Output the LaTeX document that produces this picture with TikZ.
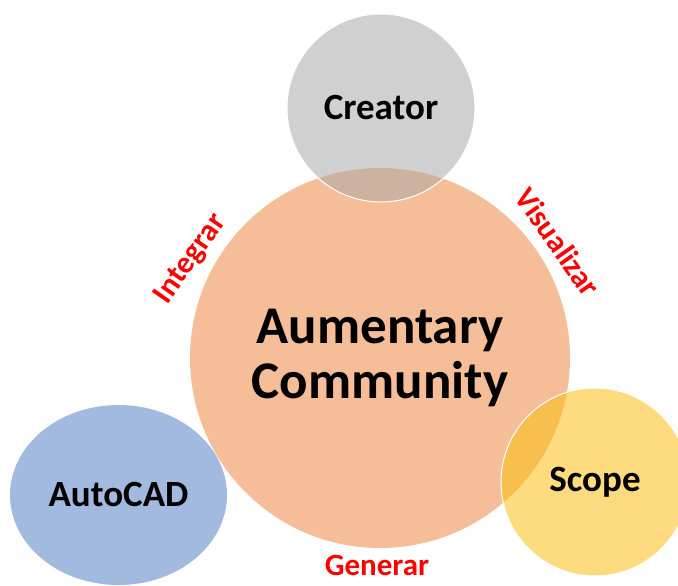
\documentclass[tikz,border=0pt]{standalone}
\usepackage{fontspec}
\setmainfont{Carlito}
\usepackage{xcolor}
\usepackage{tikz}
\usetikzlibrary{shapes.geometric}

\definecolor{peach}{HTML}{F5BD98}
\definecolor{stone}{HTML}{D0D0D0}
\definecolor{sand}{HTML}{CDB29F}
\definecolor{sky}{HTML}{A2B9E0}
\definecolor{sun}{HTML}{FEDB7E}
\definecolor{amber}{HTML}{F7BF4D}
\definecolor{verbred}{HTML}{FF0000}

\begin{document}
\begin{tikzpicture}[x=1pt,y=-1pt,
        bubble/.style={circle,inner sep=0pt,text=black,font=\bfseries\fontsize{37}{40}\selectfont},
        verb/.style={inner sep=0pt,text=verbred,font=\bfseries\fontsize{31}{34}\selectfont}]
        \clip (0,0) rectangle (678,586);
        \node[bubble,fill=peach,minimum size=380pt,align=center,font=\bfseries\fontsize{53}{55}\selectfont] (aum) at (380,358) {Aumentary\\Community};
        \node[bubble,ellipse,fill=sky,minimum width=217pt,minimum height=180pt] (acad) at (118.5,495) {AutoCAD};
        \foreach \nm/\txt/\x/\y/\fc/\oc in {cre/Creator/381/108/stone/sand, sco/Scope/595/482/sun/amber}{
            \node[bubble,fill=\fc,minimum size=188pt] (\nm) at (\x,\y) {\txt};
            \begin{scope}
                \clip (\nm.center) circle (94pt);
                \fill[\oc] (aum.center) circle (190pt);
            \end{scope}
            \draw[white,line width=1pt] (\nm.center) circle (94pt);
        }
        \foreach \nm/\txt/\x/\y/\r in {int/Integrar/191/259/55, vis/Visualizar/558/242/-55, gen/Generar/377/565/0}{
            \node[verb,rotate=\r] (\nm) at (\x,\y) {\txt};
        }
    \end{tikzpicture}
\end{document}
